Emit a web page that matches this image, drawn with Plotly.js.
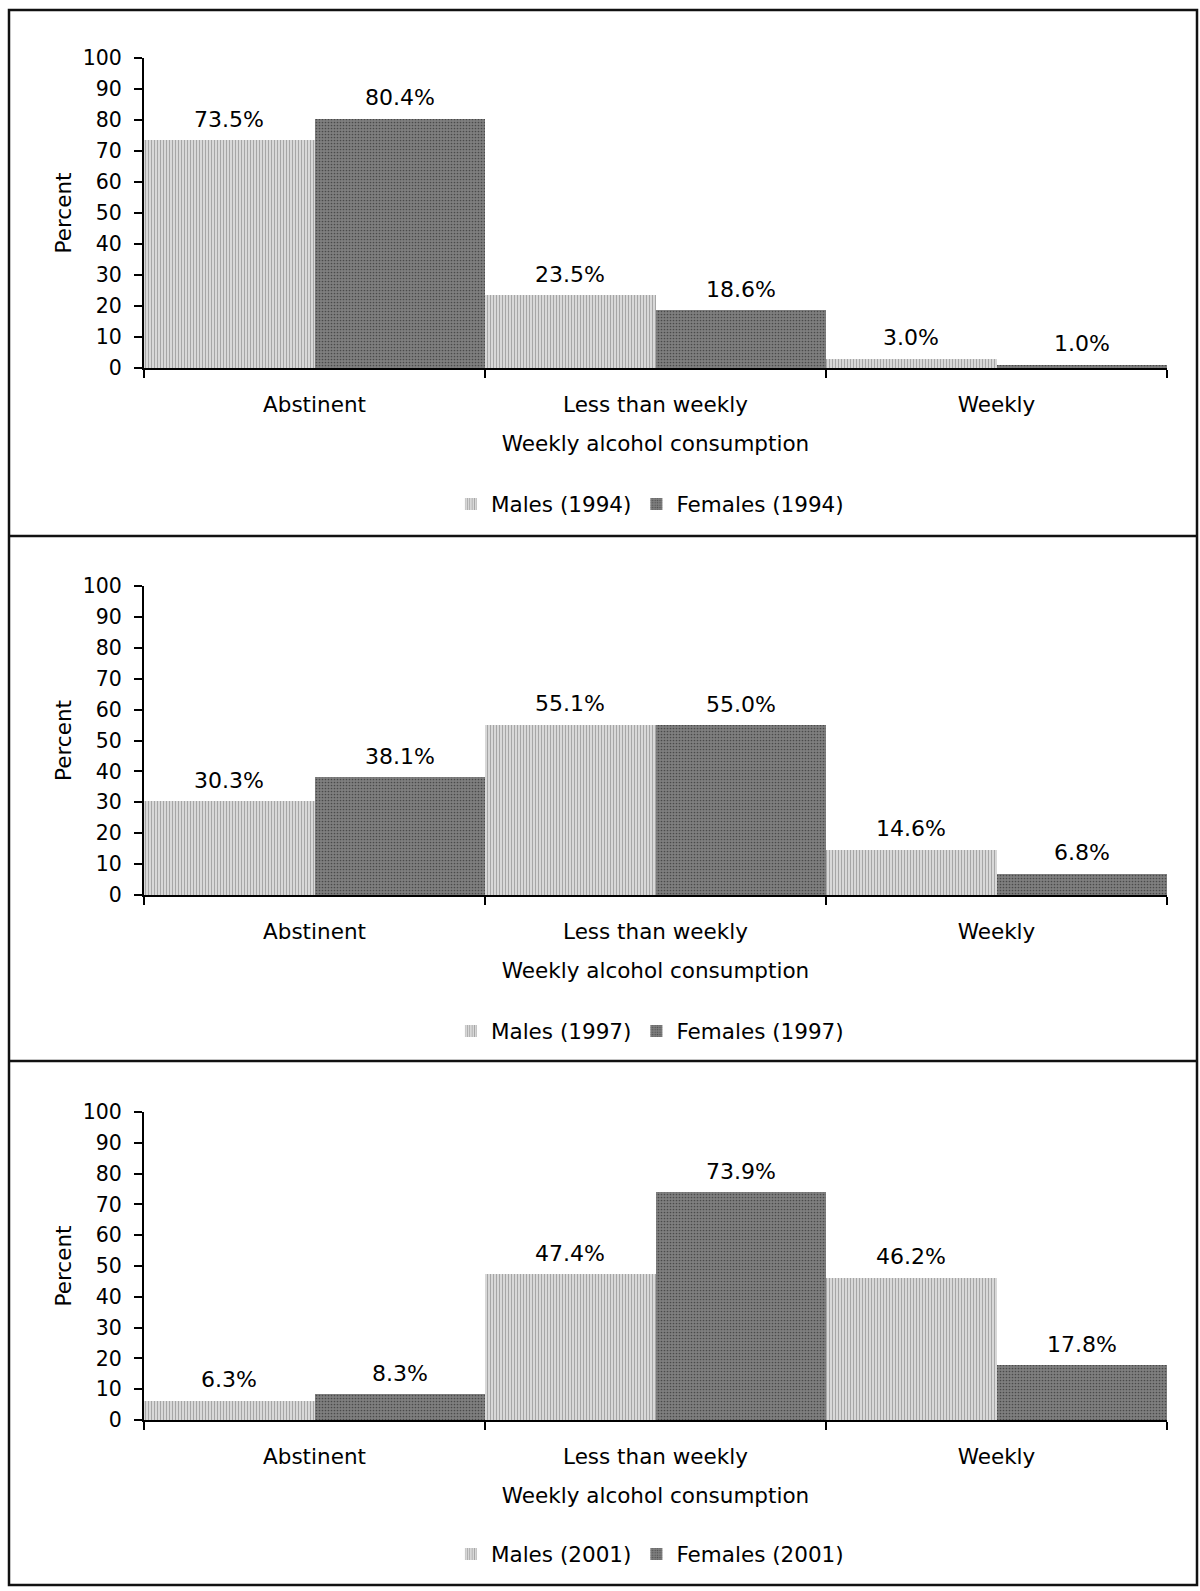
<!DOCTYPE html>
<html>
<head>
<meta charset="utf-8">
<script src="https://cdn.plot.ly/plotly-3.0.1.min.js"></script>
<style>
html,body{margin:0;padding:0;background:#fff;}
#chart{width:1200px;height:1591px;}
</style>
</head>
<body>
<div id="chart"></div>
<script>
// ---- data ----
const categories = ['Abstinent', 'Less than weekly', 'Weekly'];
const years = ['1994', '1997', '2001'];
const males1994 = [73.5, 23.5, 3.0];
const females1994 = [80.4, 18.6, 1.0];
const males1997 = [30.3, 55.1, 14.6];
const females1997 = [38.1, 55.0, 6.8];
const males2001 = [6.3, 47.4, 46.2];
const females2001 = [8.3, 73.9, 17.8];
const yTicks = [0, 10, 20, 30, 40, 50, 60, 70, 80, 90, 100];
const xTitle = 'Weekly alcohol consumption';
const yTitle = 'Percent';

// ---- layout helpers ----
const W = 1200, H = 1591;
const FONT = 'DejaVu Sans, Verdana, sans-serif';
const TXT = 21.5;
const py = v => 1 - v / H;
const panels = [
  {males: males1994, females: females1994, year: years[0], top: 58, bottom: 368, legendY: 504},
  {males: males1997, females: females1997, year: years[1], top: 586, bottom: 895, legendY: 1031},
  {males: males2001, females: females2001, year: years[2], top: 1112, bottom: 1420, legendY: 1554}
];

const traces = [];
const annotations = [];
const layout = {
  width: W, height: H,
  margin: {l: 0, r: 0, t: 0, b: 0},
  paper_bgcolor: '#fff', plot_bgcolor: '#fff',
  font: {family: FONT, size: TXT, color: '#000'},
  barmode: 'group', bargap: 0, bargroupgap: 0,
  showlegend: true,
  shapes: [
    {type: 'rect', xref: 'paper', yref: 'paper', x0: 9/W, x1: 1197/W, y0: py(1585), y1: py(10), line: {color: '#111', width: 2.5}},
    {type: 'line', xref: 'paper', yref: 'paper', x0: 9/W, x1: 1197/W, y0: py(536), y1: py(536), line: {color: '#111', width: 2.5}},
    {type: 'line', xref: 'paper', yref: 'paper', x0: 9/W, x1: 1197/W, y0: py(1061), y1: py(1061), line: {color: '#111', width: 2.5}}
  ],
  annotations: annotations
};

const malesPattern = {shape: '|', bgcolor: '#dedede', fgcolor: '#a6a6a6', size: 3, solidity: 0.4};
const femalesPattern = {shape: '.', bgcolor: '#7f7f7f', fgcolor: '#4a4a4a', size: 3, solidity: 0.25};

panels.forEach((p, i) => {
  const n = i === 0 ? '' : String(i + 1);
  const xa = 'x' + n, ya = 'y' + n;
  const leg = 'legend' + n;
  traces.push({
    type: 'bar', name: 'Males (' + p.year + ')', x: categories, y: p.males,
    xaxis: xa, yaxis: ya, legend: leg,
    marker: {color: '#dedede', line: {width: 0}, pattern: malesPattern},
    hoverinfo: 'x+y'
  });
  traces.push({
    type: 'bar', name: 'Females (' + p.year + ')', x: categories, y: p.females,
    xaxis: xa, yaxis: ya, legend: leg,
    marker: {color: '#7f7f7f', line: {width: 0}, pattern: femalesPattern},
    hoverinfo: 'x+y'
  });
  layout['xaxis' + n] = {
    type: 'category', anchor: ya, domain: [144/W, 1167/W], range: [-0.5, 2.5],
    showline: true, linecolor: '#000', linewidth: 2, mirror: false,
    ticks: 'outside', tickson: 'boundaries', ticklen: 8, tickwidth: 2, tickcolor: '#000',
    ticklabelstandoff: 16,
    showgrid: false, zeroline: false, fixedrange: true,
    tickfont: {family: FONT, size: TXT, color: '#000'},
    title: {text: xTitle, font: {family: FONT, size: TXT, color: '#000'}, standoff: 20}
  };
  layout['yaxis' + n] = {
    anchor: xa, domain: [py(p.bottom), py(p.top)], range: [0, 100],
    tickmode: 'array', tickvals: yTicks, ticktext: yTicks.map(String),
    showline: true, linecolor: '#000', linewidth: 2,
    ticks: 'outside', ticklen: 8, tickwidth: 2, tickcolor: '#000',
    ticklabelstandoff: 8,
    showgrid: false, zeroline: false, fixedrange: true,
    tickfont: {family: FONT, size: 20.5, color: '#000'},
    title: {text: yTitle, font: {family: FONT, size: TXT, color: '#000'}, standoff: 5}
  };
  layout[leg] = {
    orientation: 'h', x: 0.5416, xanchor: 'center', y: py(p.legendY), yanchor: 'middle',
    font: {family: FONT, size: TXT, color: '#000'}, bgcolor: 'rgba(0,0,0,0)',
    itemwidth: 30, tracegroupgap: 0
  };
  const halfBar = (1023 / 3) / 4;
  categories.forEach((c, k) => {
    [[p.males[k], -halfBar], [p.females[k], halfBar]].forEach(([v, dx]) => {
      annotations.push({
        xref: xa, yref: ya, x: c, y: v, xshift: dx, yshift: 21,
        text: v.toFixed(1) + '%', showarrow: false, yanchor: 'middle', xanchor: 'center',
        font: {family: FONT, size: 22, color: '#000'}
      });
    });
  });
});

Plotly.newPlot('chart', traces, layout, {staticPlot: true, displayModeBar: false});
</script>
</body>
</html>
